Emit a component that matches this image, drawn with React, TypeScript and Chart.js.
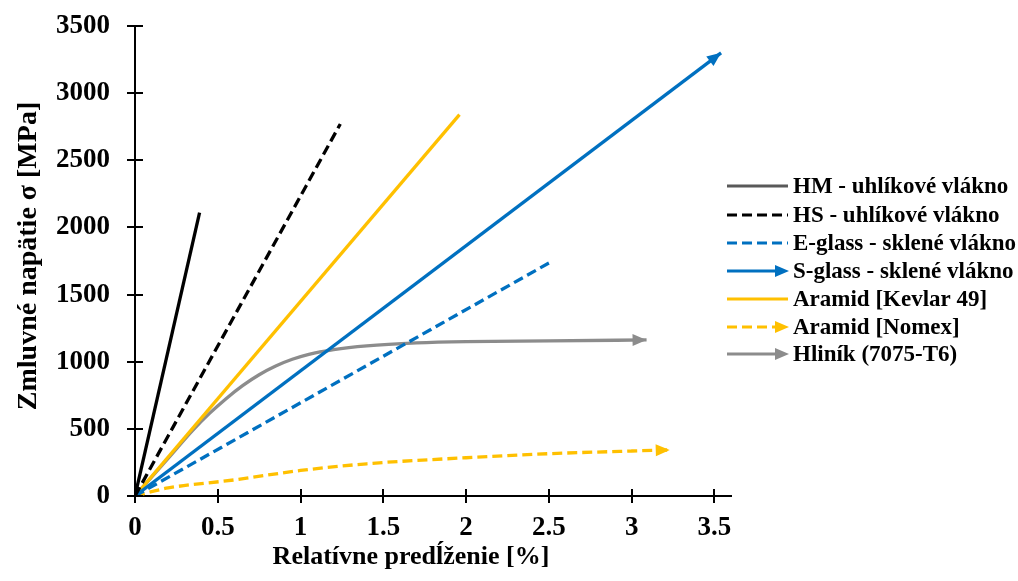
import { useEffect, useRef } from "react";
import { Chart, registerables } from "chart.js";
Chart.register(...registerables);

const FONT = '"Liberation Serif", "Times New Roman", serif';

const xTicks = [0, 0.5, 1, 1.5, 2, 2.5, 3, 3.5];
const yTicks = [0, 500, 1000, 1500, 2000, 2500, 3000, 3500];

const xTitle = "Relatívne predĺženie [%]";
const yTitle = "Zmluvné napätie σ [MPa]";

const seriesNames = [
  "HM - uhlíkové vlákno",
  "HS - uhlíkové vlákno",
  "E-glass - sklené vlákno",
  "S-glass - sklené vlákno",
  "Aramid [Kevlar 49]",
  "Aramid [Nomex]",
  "Hliník (7075-T6)",
];

const hmX = [0, 0.39];
const hmY = [0, 2110];
const hsX = [0, 1.24];
const hsY = [0, 2770];
const eGlassX = [0, 2.5];
const eGlassY = [0, 1735];
const sGlassX = [0, 3.54];
const sGlassY = [0, 3300];
const kevlarX = [0, 1.96];
const kevlarY = [0, 2840];
const nomexX = [0, 0.1, 0.2, 0.6, 1.0, 1.4, 2.0, 2.5, 3.0, 3.23];
const nomexY = [0, 32, 60, 120, 190, 240, 285, 315, 335, 343];
const alX = [0, 0.2, 0.35, 0.45, 0.55, 0.65, 0.75, 0.85, 0.95, 1.05, 1.2, 1.4, 1.7, 2.0, 2.5, 3.09];
const alY = [0, 280, 490, 615, 725, 822, 903, 968, 1018, 1055, 1090, 1118, 1140, 1150, 1155, 1162];

const BLUE = "#0070C0";
const YELLOW = "#FFC000";
const GRAY = "#8C8C8C";
const BLACK = "#000000";

const pts = (xs: number[], ys: number[]) => xs.map((x, i) => ({ x, y: ys[i] }));

// legend swatch styles: [color, dashed, arrow]
const legendStyle: [string, boolean, boolean][] = [
  ["#595959", false, false],
  [BLACK, true, false],
  [BLUE, true, false],
  [BLUE, false, true],
  [YELLOW, false, false],
  [YELLOW, true, true],
  [GRAY, false, true],
];
const arrowSeries = [3, 5, 6];

function drawArrow(ctx: CanvasRenderingContext2D, tx: number, ty: number, ang: number, color: string) {
  const len = 14;
  const half = 6;
  ctx.save();
  ctx.translate(tx, ty);
  ctx.rotate(ang);
  ctx.fillStyle = color;
  ctx.beginPath();
  ctx.moveTo(0, 0);
  ctx.lineTo(-len, -half);
  ctx.lineTo(-len, half);
  ctx.closePath();
  ctx.fill();
  ctx.restore();
}

const decorPlugin = {
  id: "decor",
  afterDatasetsDraw(chart: any) {
    const ctx: CanvasRenderingContext2D = chart.ctx;
    arrowSeries.forEach((i) => {
      const meta = chart.getDatasetMeta(i);
      const d = meta.data;
      const a = d[d.length - 2];
      const b = d[d.length - 1];
      const ang = Math.atan2(b.y - a.y, b.x - a.x);
      drawArrow(ctx, b.x, b.y, ang, chart.data.datasets[i].borderColor);
    });
  },
  afterDraw(chart: any) {
    const ctx: CanvasRenderingContext2D = chart.ctx;
    const xs = chart.scales.x;
    const ys = chart.scales.y;
    const area = chart.chartArea;
    ctx.save();
    ctx.strokeStyle = "#000";
    ctx.lineWidth = 2;
    xs.ticks.forEach((t: any) => {
      const px = Math.round(xs.getPixelForValue(t.value));
      ctx.beginPath();
      ctx.moveTo(px, area.bottom - 7);
      ctx.lineTo(px, area.bottom + 7);
      ctx.stroke();
    });
    ys.ticks.forEach((t: any) => {
      const py = Math.round(ys.getPixelForValue(t.value));
      ctx.beginPath();
      ctx.moveTo(area.left - 8, py);
      ctx.lineTo(area.left + 8, py);
      ctx.stroke();
    });
    // axis titles
    ctx.fillStyle = "#000";
    ctx.textAlign = "center";
    ctx.textBaseline = "middle";
    ctx.font = `bold 26px ${FONT}`;
    ctx.fillText(xTitle, 411, 557);
    ctx.save();
    ctx.translate(29, 256);
    ctx.rotate(-Math.PI / 2);
    ctx.font = `bold 28px ${FONT}`;
    ctx.fillText(yTitle, 0, 0);
    ctx.restore();
    // legend
    const rows = [186, 215, 243, 271, 299, 327, 354];
    ctx.font = `bold 23px ${FONT}`;
    ctx.textAlign = "left";
    seriesNames.forEach((name, i) => {
      const [color, dashed, arrow] = legendStyle[i];
      const y = rows[i];
      ctx.save();
      ctx.strokeStyle = color;
      ctx.lineWidth = 3;
      ctx.setLineDash(dashed ? [10, 5] : []);
      ctx.beginPath();
      ctx.moveTo(727, y);
      ctx.lineTo(arrow ? 780 : 788, y);
      ctx.stroke();
      ctx.restore();
      if (arrow) drawArrow(ctx, 789, y, 0, color);
      ctx.fillStyle = "#000";
      ctx.fillText(name, 793, y + 1);
    });
    ctx.restore();
  },
};

export default function App() {
  const ref = useRef<HTMLCanvasElement>(null);
  useEffect(() => {
    if (!ref.current) return;
    const line = (i: number, xs: number[], ys: number[], color: string, dashed: boolean) => ({
      label: seriesNames[i],
      data: pts(xs, ys),
      borderColor: color,
      backgroundColor: color,
      borderWidth: 3.3,
      borderDash: dashed ? [10, 5] : [],
      pointRadius: 0,
      fill: false,
      cubicInterpolationMode: "monotone" as const,
    });
    const chart = new Chart(ref.current, {
      type: "line",
      data: {
        datasets: [
          line(0, hmX, hmY, BLACK, false),
          line(1, hsX, hsY, BLACK, true),
          line(2, eGlassX, eGlassY, BLUE, true),
          line(3, sGlassX, sGlassY, BLUE, false),
          line(4, kevlarX, kevlarY, YELLOW, false),
          line(5, nomexX, nomexY, YELLOW, true),
          line(6, alX, alY, GRAY, false),
        ],
      },
      options: {
        animation: false,
        responsive: false,
        layout: { padding: { top: 26, right: 287, bottom: 0, left: 0 } },
        plugins: { legend: { display: false }, tooltip: { enabled: false } },
        scales: {
          x: {
            type: "linear",
            min: 0,
            max: 3.6,
            afterBuildTicks: (s: any) => {
              s.ticks = xTicks.map((v) => ({ value: v }));
            },
            afterFit: (s: any) => {
              s.height = 85;
              s.paddingLeft = 0;
              s.paddingRight = 0;
            },
            grid: { display: false, drawTicks: false },
            border: { display: true, color: "#000", width: 2 },
            ticks: {
              padding: 16,
              color: "#000",
              font: { family: FONT, size: 27, weight: "bold" },
              maxRotation: 0,
              callback: (v: any) => String(v),
            },
          },
          y: {
            type: "linear",
            min: 0,
            max: 3500,
            afterBuildTicks: (s: any) => {
              s.ticks = yTicks.map((v) => ({ value: v }));
            },
            afterFit: (s: any) => {
              s.width = 135;
              s.paddingTop = 0;
              s.paddingBottom = 0;
            },
            grid: { display: false, drawTicks: false },
            border: { display: true, color: "#000", width: 2 },
            ticks: {
              padding: 25,
              color: "#000",
              font: { family: FONT, size: 27, weight: "bold" },
              callback: (v: any) => String(v),
            },
          },
        },
      },
      plugins: [decorPlugin],
    });
    return () => chart.destroy();
  }, []);
  return (
    <div style={{ position: "absolute", left: 0, top: 0, width: 1018, height: 581, background: "#fff" }}>
      <canvas ref={ref} width={1018} height={581} style={{ display: "block" }} />
    </div>
  );
}
